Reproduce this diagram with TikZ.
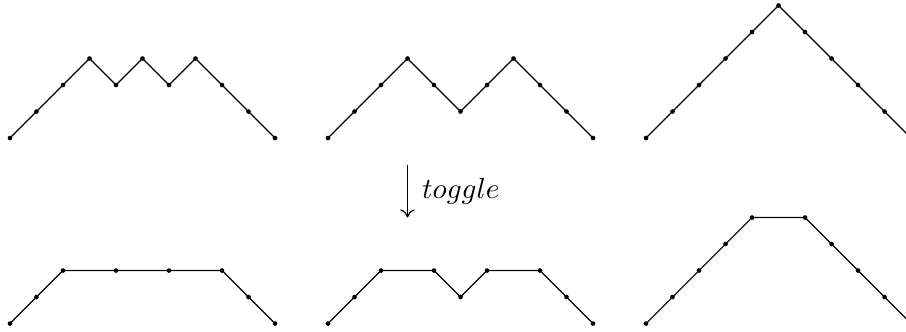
\documentclass[tikz,border=0pt]{standalone}
\usepackage{amssymb}
\usetikzlibrary{positioning,arrows.meta}

\tikzset{pathline/.style={line width=0.4pt}}

\begin{document}
\begin{tikzpicture}[x=0.32cm,y=0.32cm]
\useasboundingbox (-0.377,-7.283) rectangle (33.81,5.208);

% top row: Dyck paths
\path[shape=coordinate]
(0,0) coordinate(d1-1) (1,1) coordinate(d1-2)
(2,2) coordinate(d1-3) (3,3) coordinate(d1-4)
(4,2) coordinate(d1-5) (5,3) coordinate(d1-6)
(6,2) coordinate(d1-7) (7,3) coordinate(d1-8)
(8,2) coordinate(d1-9) (9,1) coordinate(d1-10)
(10,0) coordinate(d1-11);
\draw[pathline] (d1-1) -- (d1-2) -- (d1-3) -- (d1-4) -- (d1-5) -- (d1-6)
  -- (d1-7) -- (d1-8) -- (d1-9) -- (d1-10) -- (d1-11);

\path[shape=coordinate]
(12,0) coordinate(d2-1) (13,1) coordinate(d2-2)
(14,2) coordinate(d2-3) (15,3) coordinate(d2-4)
(16,2) coordinate(d2-5) (17,1) coordinate(d2-6)
(18,2) coordinate(d2-7) (19,3) coordinate(d2-8)
(20,2) coordinate(d2-9) (21,1) coordinate(d2-10)
(22,0) coordinate(d2-11);
\draw[pathline] (d2-1) -- (d2-2) -- (d2-3) -- (d2-4) -- (d2-5) -- (d2-6)
  -- (d2-7) -- (d2-8) -- (d2-9) -- (d2-10) -- (d2-11);

\path[shape=coordinate]
(24,0) coordinate(d3-1) (25,1) coordinate(d3-2)
(26,2) coordinate(d3-3) (27,3) coordinate(d3-4)
(28,4) coordinate(d3-5) (29,5) coordinate(d3-6)
(30,4) coordinate(d3-7) (31,3) coordinate(d3-8)
(32,2) coordinate(d3-9) (33,1) coordinate(d3-10)
(34,0) coordinate(d3-11);
\draw[pathline] (d3-1) -- (d3-2) -- (d3-3) -- (d3-4) -- (d3-5) -- (d3-6)
  -- (d3-7) -- (d3-8) -- (d3-9) -- (d3-10) -- (d3-11);

% bottom row: toggled paths
\path[shape=coordinate]
(0,-7) coordinate(m1-1) (1,-6) coordinate(m1-2)
(2,-5) coordinate(m1-3) (4,-5) coordinate(m1-4)
(6,-5) coordinate(m1-5) (8,-5) coordinate(m1-6)
(9,-6) coordinate(m1-7) (10,-7) coordinate(m1-8);
\draw[pathline] (m1-1) -- (m1-2) -- (m1-3) -- (m1-4) -- (m1-5) -- (m1-6)
  -- (m1-7) -- (m1-8);

\path[shape=coordinate]
(12,-7) coordinate(m2-1) (13,-6) coordinate(m2-2)
(14,-5) coordinate(m2-3) (16,-5) coordinate(m2-4)
(17,-6) coordinate(m2-5) (18,-5) coordinate(m2-6)
(20,-5) coordinate(m2-7) (21,-6) coordinate(m2-8)
(22,-7) coordinate(m2-9);
\draw[pathline] (m2-1) -- (m2-2) -- (m2-3) -- (m2-4) -- (m2-5) -- (m2-6)
  -- (m2-7) -- (m2-8) -- (m2-9);

\path[shape=coordinate]
(24,-7) coordinate(m3-1) (25,-6) coordinate(m3-2)
(26,-5) coordinate(m3-3) (27,-4) coordinate(m3-4)
(28,-3) coordinate(m3-5) (30,-3) coordinate(m3-6)
(31,-4) coordinate(m3-7) (32,-5) coordinate(m3-8)
(33,-6) coordinate(m3-9) (34,-7) coordinate(m3-10);
\draw[pathline] (m3-1) -- (m3-2) -- (m3-3) -- (m3-4) -- (m3-5) -- (m3-6)
  -- (m3-7) -- (m3-8) -- (m3-9) -- (m3-10);

% vertices
\foreach \k in {1,2,3} {
  \foreach \i in {1,...,11} \fill (d\k-\i) circle (0.8pt);
}
\foreach \i in {1,...,8} \fill (m1-\i) circle (0.8pt);
\foreach \i in {1,...,9} \fill (m2-\i) circle (0.8pt);
\foreach \i in {1,...,10} \fill (m3-\i) circle (0.8pt);

% toggle arrow
\coordinate (tg1) at (15,-1);
\coordinate (tg2) at (15,-3);
\draw[-{To[length=2.8pt,width=5pt]}] (tg1) -- (tg2)
  node[midway,right,xshift=1.5pt] (tgl) {$toggle$};

\end{tikzpicture}
\end{document}
